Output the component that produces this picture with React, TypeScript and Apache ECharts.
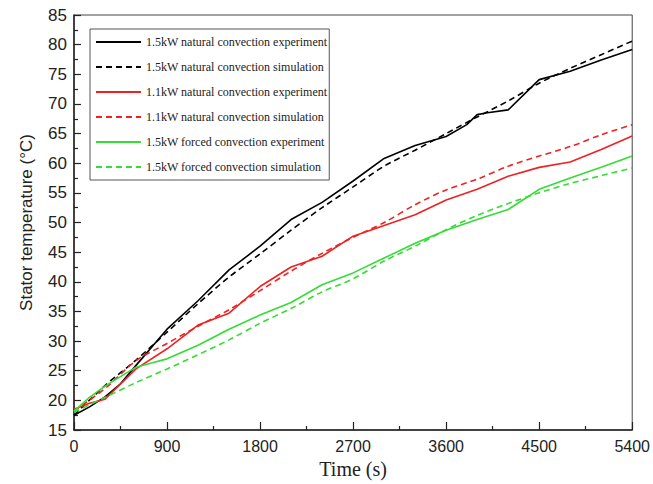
import React, { useEffect, useRef } from "react";
import * as echarts from "echarts";

const seriesNames = [
  "1.5kW natural convection experiment",
  "1.5kW natural convection simulation",
  "1.1kW natural convection experiment",
  "1.1kW natural convection simulation",
  "1.5kW forced convection experiment",
  "1.5kW forced convection simulation",
];

const simTimes = [0, 300, 600, 900, 1200, 1500, 1800, 2100, 2400, 2700, 3000, 3300, 3600, 3900, 4200, 4500, 4800, 5100, 5400];

const nat15ExpTimes = [0, 150, 300, 450, 600, 900, 1200, 1500, 1800, 2100, 2400, 2700, 3000, 3300, 3600, 3800, 3900, 4000, 4200, 4500, 4800, 5100, 5400];
const nat15ExpValues = [17.5, 18.9, 20.6, 22.8, 25.9, 32, 36.8, 42, 46, 50.5, 53.4, 57, 60.8, 63, 64.5, 66.5, 68.2, 68.5, 69, 74.1, 75.5, 77.4, 79.2];
const nat15SimValues = [17.5, 22.5, 26.8, 31.5, 36.3, 40.8, 44.7, 48.7, 52.5, 56, 59.5, 62.2, 65, 67.8, 70.5, 73.5, 76, 78.3, 80.6];

const nat11ExpTimes = [0, 150, 300, 600, 900, 1200, 1500, 1800, 2100, 2400, 2700, 3000, 3300, 3600, 3900, 4200, 4500, 4800, 5100, 5400];
const nat11ExpValues = [18.5, 19.5, 20.2, 25.3, 28.7, 32.7, 34.7, 39.2, 42.5, 44.3, 47.7, 49.5, 51.3, 53.8, 55.6, 57.8, 59.3, 60.2, 62.3, 64.6];
const nat11SimValues = [18.2, 22, 26.7, 29.6, 32.5, 35.3, 38.5, 41.8, 44.8, 47.5, 50, 53, 55.5, 57.3, 59.5, 61.2, 62.8, 64.8, 66.5];

const forcedExpTimes = [0, 150, 300, 600, 750, 900, 1200, 1500, 1800, 2100, 2400, 2700, 3000, 3300, 3600, 3900, 4200, 4500, 4800, 5100, 5400];
const forcedExpValues = [18.2, 20.5, 22.4, 25.6, 26.3, 27, 29.3, 32, 34.4, 36.5, 39.5, 41.5, 44, 46.5, 48.7, 50.5, 52.2, 55.6, 57.5, 59.3, 61.2];
const forcedSimValues = [18, 20.5, 23, 25.3, 27.7, 30.2, 33, 35.5, 38.3, 40.5, 43.5, 46, 48.8, 51.2, 53.2, 55, 56.6, 57.9, 59.2];

const colors = ["#000000", "#000000", "#ee2222", "#ee2222", "#33dd33", "#33dd33"];

const pair = (ts: number[], vs: number[]) => ts.map((t, i) => [t, vs[i]]);

export default function App() {
  const ref = useRef<HTMLDivElement>(null);
  useEffect(() => {
    if (!ref.current) return;
    const chart = echarts.init(ref.current, undefined, { renderer: "svg" });
    const datasets = [
      pair(nat15ExpTimes, nat15ExpValues),
      pair(simTimes, nat15SimValues),
      pair(nat11ExpTimes, nat11ExpValues),
      pair(simTimes, nat11SimValues),
      pair(forcedExpTimes, forcedExpValues),
      pair(simTimes, forcedSimValues),
    ];
    chart.setOption({
      animation: false,
      backgroundColor: "#ffffff",
      grid: {
        left: 74,
        right: 18,
        top: 15,
        bottom: 53,
        show: true,
        borderColor: "#444",
        borderWidth: 1,
      },
      legend: {
        orient: "vertical",
        left: 90,
        top: 29,
        padding: [6, 2, 6, 5],
        itemWidth: 45,
        itemHeight: 14,
        itemGap: 11,
        borderColor: "#555",
        borderWidth: 1,
        itemStyle: { opacity: 0 },
        textStyle: {
          fontFamily: "Liberation Serif",
          fontSize: 12,
          color: "#222",
          lineHeight: 14,
        },
        data: seriesNames,
      },
      xAxis: {
        type: "value",
        min: 0,
        max: 5400,
        interval: 900,
        name: "Time (s)",
        nameLocation: "middle",
        nameGap: 29,
        nameTextStyle: { fontFamily: "Liberation Serif", fontSize: 20, color: "#222" },
        axisLine: { show: true, lineStyle: { color: "#222", width: 1.5 } },
        axisTick: { show: true, inside: true, length: 8, lineStyle: { color: "#222", width: 1.2 } },
        minorTick: { show: true, splitNumber: 2, length: 4, lineStyle: { color: "#222", width: 1.2 } },
        axisLabel: {
          fontFamily: "Liberation Sans",
          fontSize: 16,
          color: "#222",
          margin: 8,
          formatter: (v: number) => String(v),
        },
        splitLine: { show: false },
      },
      yAxis: {
        type: "value",
        min: 15,
        max: 85,
        interval: 5,
        name: "Stator temperature (°C)",
        nameLocation: "middle",
        nameGap: 39,
        nameTextStyle: { fontFamily: "Liberation Sans", fontSize: 17, color: "#222" },
        axisLine: { show: true, lineStyle: { color: "#222", width: 1.5 } },
        axisTick: { show: true, inside: true, length: 7, lineStyle: { color: "#222", width: 1.2 } },
        minorTick: { show: true, splitNumber: 2, length: 4, lineStyle: { color: "#222", width: 1.2 } },
        axisLabel: { fontFamily: "Liberation Sans", fontSize: 17, color: "#222", margin: 7 },
        splitLine: { show: false },
      },
      series: seriesNames.map((name, i) => ({
        name,
        type: "line",
        data: datasets[i],
        showSymbol: false,
        symbol: "none",
        smooth: i % 2 === 1 ? 0.3 : false,
        color: colors[i],
        lineStyle: {
          color: colors[i],
          width: 1.6,
          type: i % 2 === 1 ? [6, 4] : "solid",
        },
      })),
    });
    return () => chart.dispose();
  }, []);
  return (
    <div
      ref={ref}
      style={{ position: "absolute", left: 0, top: 0, width: 653, height: 484 }}
    />
  );
}
